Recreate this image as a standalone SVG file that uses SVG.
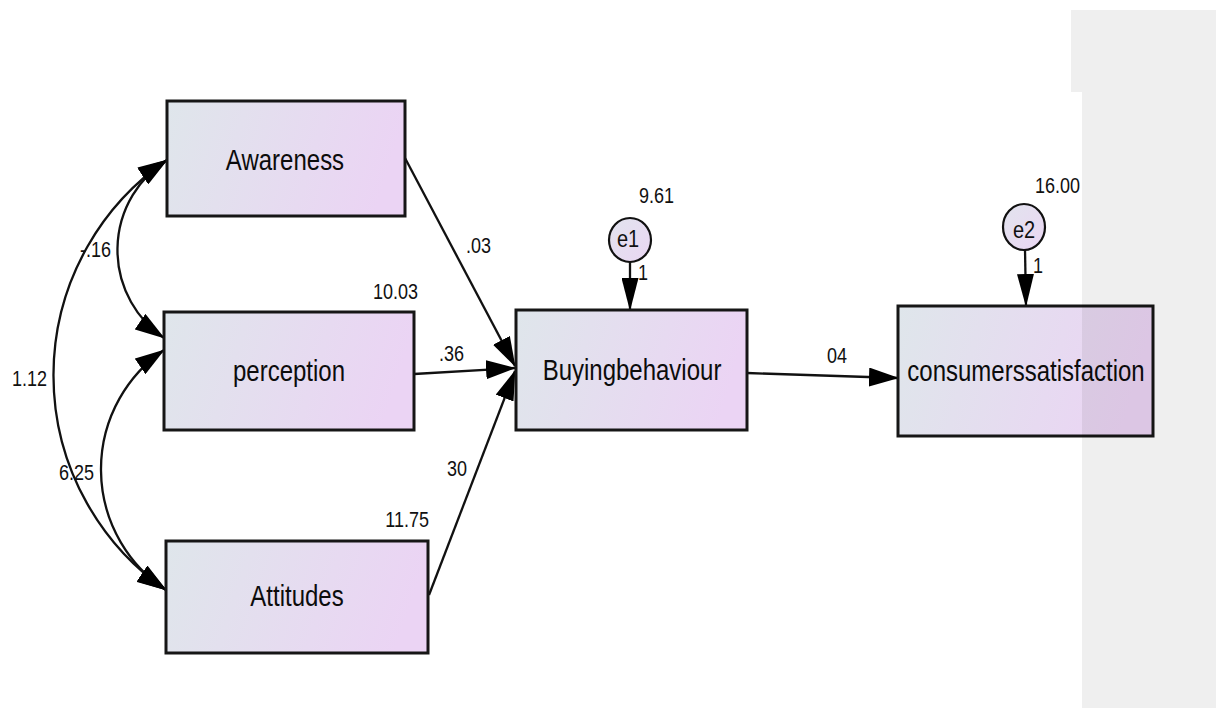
<svg xmlns="http://www.w3.org/2000/svg" width="1216" height="708" viewBox="0 0 1216 708">
  <defs>
    <linearGradient id="boxFill" x1="0" y1="0" x2="1" y2="0.15">
      <stop offset="0" stop-color="#dfe6eb"/>
      <stop offset="1" stop-color="#ebd4f4"/>
    </linearGradient>
    <linearGradient id="errFill" x1="0" y1="0" x2="1" y2="1">
      <stop offset="0" stop-color="#e2e4ee"/>
      <stop offset="1" stop-color="#ead6f3"/>
    </linearGradient>
    <marker id="head" viewBox="0 0 30 19" refX="29" refY="9.5" markerWidth="30" markerHeight="19" markerUnits="userSpaceOnUse" orient="auto-start-reverse">
      <path d="M0,0 L30,9.5 L0,19 Z" fill="#000"/>
    </marker>
    <marker id="headLong" viewBox="0 0 33 17" refX="32" refY="8.5" markerWidth="33" markerHeight="17" markerUnits="userSpaceOnUse" orient="auto">
      <path d="M0,0 L33,8.5 L0,17 Z" fill="#000"/>
    </marker>
  </defs>
  <style>
    .box { fill: url(#boxFill); stroke: #161616; stroke-width: 3; }
    .err { fill: url(#errFill); stroke: #111; stroke-width: 2.2; }
    .lbl { font-family: "Liberation Sans", Arial, sans-serif; font-size: 24px; fill: #0c0c0c; text-anchor: middle; }
    .num { font-family: "Liberation Sans", Arial, sans-serif; font-size: 18px; fill: #111; }
    .elbl { font-family: "Liberation Sans", Arial, sans-serif; font-size: 20px; fill: #111; text-anchor: middle; }
    .path { fill: none; stroke: #111; stroke-width: 2.3; }
  </style>

  <rect width="1216" height="708" fill="#fff"/>

  <!-- paths and covariances -->
  <g id="connectors">
    <path class="path" d="M167,160 A261,261 0 0 0 166,590" marker-start="url(#head)" marker-end="url(#head)"/>
    <path class="path" d="M167,160 A106.5,106.5 0 0 0 164,338" marker-start="url(#head)" marker-end="url(#head)"/>
    <path class="path" d="M164,350 A144.5,144.5 0 0 0 166,590" marker-start="url(#head)" marker-end="url(#head)"/>
    <path class="path" d="M405,158 L515,366" marker-end="url(#head)"/>
    <path class="path" d="M414,374 L515,368" marker-end="url(#head)"/>
    <path class="path" d="M429,595 L515,371" marker-end="url(#head)"/>
    <path class="path" d="M747,373 L898,378" stroke-width="3.5" marker-end="url(#head)"/>
    <path class="path" d="M630,261 L630,310" marker-end="url(#headLong)"/>
    <path class="path" d="M1025,249 L1026,306" marker-end="url(#headLong)"/>
  </g>

  <!-- path and covariance estimates -->
  <g id="estimates">
    <text class="num" transform="translate(111,257) scale(1,1.2)" text-anchor="end">-.16</text>
    <text class="num" transform="translate(12,386) scale(1,1.2)">1.12</text>
    <text class="num" transform="translate(59,480) scale(1,1.2)">6.25</text>
    <text class="num" transform="translate(466,253) scale(1,1.2)">.03</text>
    <text class="num" transform="translate(439,361) scale(1,1.2)">.36</text>
    <text class="num" transform="translate(447,476) scale(1,1.2)">30</text>
    <text class="num" transform="translate(827,363) scale(1,1.2)">04</text>
    <text class="num" transform="translate(638,280) scale(1,1.2)">1</text>
    <text class="num" transform="translate(1033,273) scale(1,1.2)">1</text>
  </g>

  <g id="awareness">
    <rect class="box" x="167" y="101" width="238" height="115"/>
    <text class="lbl" transform="translate(285,170) scale(1,1.2)">Awareness</text>
  </g>

  <g id="perception">
    <rect class="box" x="164" y="312" width="250" height="118"/>
    <text class="num" transform="translate(373,299) scale(1,1.2)">10.03</text>
    <text class="lbl" transform="translate(289,381) scale(1,1.2)">perception</text>
  </g>

  <g id="attitudes">
    <rect class="box" x="166" y="541" width="262" height="112"/>
    <text class="num" transform="translate(429,527) scale(1,1.2)" text-anchor="end">11.75</text>
    <text class="lbl" transform="translate(297,606) scale(1,1.2)">Attitudes</text>
  </g>

  <g id="buying-behaviour">
    <rect class="box" x="516" y="310" width="231" height="120"/>
    <text class="lbl" transform="translate(632,380) scale(1,1.2)">Buyingbehaviour</text>
  </g>

  <g id="e1">
    <text class="num" transform="translate(639,203) scale(1,1.2)">9.61</text>
    <ellipse class="err" cx="630" cy="240" rx="21" ry="22"/>
    <text class="elbl" transform="translate(628,247) scale(1,1.2)">e1</text>
  </g>

  <g id="consumers-satisfaction">
    <rect class="box" x="898" y="306" width="255" height="130"/>
    <text class="lbl" transform="translate(1026,381) scale(1,1.2)">consumerssatisfaction</text>
  </g>

  <g id="e2">
    <text class="num" transform="translate(1035,193) scale(1,1.2)">16.00</text>
    <ellipse class="err" cx="1024" cy="227" rx="21" ry="23"/>
    <text class="elbl" transform="translate(1024,238) scale(1,1.2)">e2</text>
  </g>

  <!-- grey side panel, laid over the canvas -->
  <path id="side-panel" d="M1071,10 H1216 V708 H1082 V92 H1071 Z" fill="#000" fill-opacity="0.063"/>
</svg>
